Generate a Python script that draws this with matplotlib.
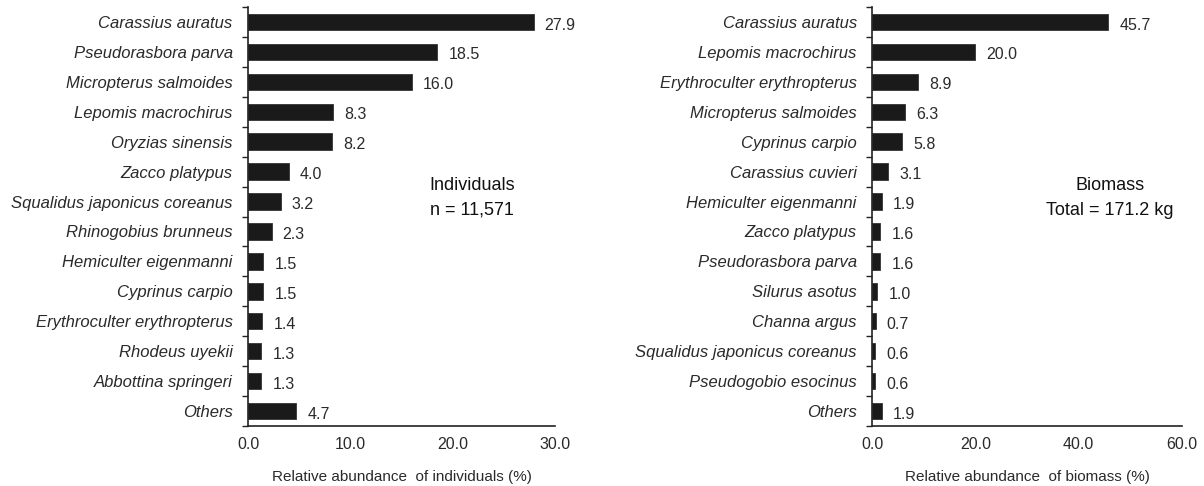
import numpy as np
import matplotlib
matplotlib.use("Agg")
import matplotlib.pyplot as plt

plt.rcParams['font.family'] = ['Liberation Sans', 'DejaVu Sans']

# individuals panel
ind_species = ["Carassius auratus", "Pseudorasbora parva", "Micropterus salmoides",
               "Lepomis macrochirus", "Oryzias sinensis", "Zacco platypus",
               "Squalidus japonicus coreanus", "Rhinogobius brunneus",
               "Hemiculter eigenmanni", "Cyprinus carpio", "Erythroculter erythropterus",
               "Rhodeus uyekii", "Abbottina springeri", "Others"]
ind_values = [27.9, 18.5, 16.0, 8.3, 8.2, 4.0, 3.2, 2.3, 1.5, 1.5, 1.4, 1.3, 1.3, 4.7]
ind_ticks = [0, 10, 20, 30]

# biomass panel
bio_species = ["Carassius auratus", "Lepomis macrochirus", "Erythroculter erythropterus",
               "Micropterus salmoides", "Cyprinus carpio", "Carassius cuvieri",
               "Hemiculter eigenmanni", "Zacco platypus", "Pseudorasbora parva",
               "Silurus asotus", "Channa argus", "Squalidus japonicus coreanus",
               "Pseudogobio esocinus", "Others"]
bio_values = [45.7, 20.0, 8.9, 6.3, 5.8, 3.1, 1.9, 1.6, 1.6, 1.0, 0.7, 0.6, 0.6, 1.9]
bio_ticks = [0, 20, 40, 60]

fig = plt.figure(figsize=(12.04, 4.86), dpi=100)
ax1 = fig.add_axes([0.206, 0.1235, 0.255, 0.862])
ax2 = fig.add_axes([0.7243, 0.1235, 0.2575, 0.862])

TXT = '#2a2a2a'


def panel(ax, names, vals, ticks, xlabel, note, nx):
    n = len(names)
    y = np.arange(n)
    ax.barh(y, vals, height=0.55, color='#1a1a1a', edgecolor='#333333', lw=0.6)
    ax.set_ylim(n - 0.5, -0.5)
    ax.set_xlim(ticks[0], ticks[-1])
    ax.set_yticks(y)
    ax.set_yticklabels(names, fontsize=12, style='italic', color=TXT)
    ax.set_yticks(np.arange(n + 1) - 0.5, minor=True)
    ax.tick_params(axis='y', which='major', length=0, pad=11)
    ax.tick_params(axis='y', which='minor', length=4.5, width=1, color='#222222')
    ax.set_xticks(ticks)
    ax.set_xticklabels([f"{t:.1f}" for t in ticks], fontsize=11.5, color=TXT)
    ax.tick_params(axis='x', length=0, pad=8)
    for s in ['top', 'right']:
        ax.spines[s].set_visible(False)
    for s in ['left', 'bottom']:
        ax.spines[s].set_color('#222222')
        ax.spines[s].set_linewidth(1.2)
    off = ticks[-1] * 0.036
    for yi, v in zip(y, vals):
        ax.text(v + off, yi + 0.1, f"{v:.1f}", va='center', ha='left',
                fontsize=11.5, color=TXT)
    ax.set_xlabel(xlabel, fontsize=11, color=TXT, labelpad=13)
    ax.text(nx, 0.573, note[0], transform=ax.transAxes, ha='center',
            va='center', fontsize=13, color='#111111')
    ax.text(nx, 0.515, note[1], transform=ax.transAxes, ha='center',
            va='center', fontsize=13, color='#111111')


panel(ax1, ind_species, ind_values, ind_ticks,
      "Relative abundance  of individuals (%)", ["Individuals", "n = 11,571"], 0.73)
panel(ax2, bio_species, bio_values, bio_ticks,
      "Relative abundance  of biomass (%)", ["Biomass", "Total = 171.2 kg"], 0.768)

fig.savefig("out.png", dpi=100)
